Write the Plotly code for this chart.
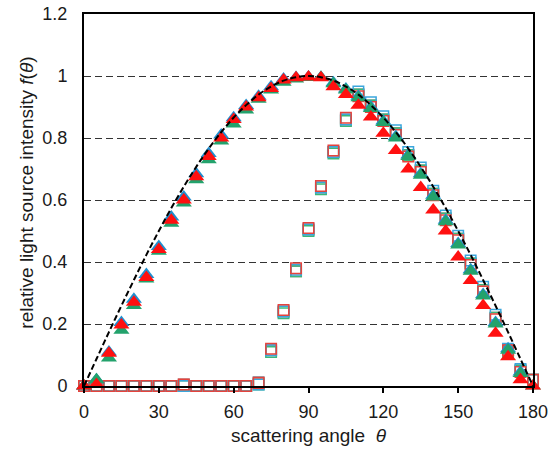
import plotly.graph_objects as go

# ---------------- data ----------------
angles = [0, 5, 10, 15, 20, 25, 30, 35, 40, 45, 50, 55, 60, 65, 70, 75, 80, 85, 90,
          95, 100, 105, 110, 115, 120, 125, 130, 135, 140, 145, 150, 155, 160, 165, 170, 175, 180]

tri_red = [0.0, 0.005, 0.106, 0.197, 0.27, 0.35, 0.44, 0.535, 0.60, 0.675, 0.74, 0.80, 0.86, 0.90, 0.93,
           0.96, 0.987, 0.994, 0.997, 0.994, 0.965, 0.94, 0.906, 0.868, 0.815, 0.76, 0.70, 0.64, 0.568,
           0.50, 0.416, 0.34, 0.26, 0.17, 0.094, 0.02, 0.0]
tri_green = [0.0, 0.02, 0.09, 0.18, 0.26, 0.345, 0.435, 0.525, 0.59, 0.665, 0.73, 0.79, 0.845, 0.89, 0.925,
             0.955, 0.98, 0.99, 0.995, 0.995, 0.975, 0.955, 0.93, 0.895, 0.85, 0.80, 0.74, 0.68, 0.61,
             0.53, 0.455, 0.37, 0.29, 0.20, 0.115, 0.04, 0.0]
tri_blue = [0.0, 0.02, 0.11, 0.205, 0.28, 0.36, 0.45, 0.545, 0.61, 0.685, 0.75, 0.81, 0.865, 0.905, 0.935,
            0.965, 0.99, 0.995, 0.997, 0.996, 0.978, 0.958, 0.935, 0.9, 0.855, 0.805, 0.745, 0.685, 0.615,
            0.535, 0.46, 0.375, 0.295, 0.205, 0.12, 0.045, -0.005]

sq_red = [0.0, 0.0, 0.0, 0.0, 0.0, 0.0, 0.0, 0.0, 0.005, 0.0, 0.0, 0.0, 0.0, 0.0, 0.01,
          0.12, 0.245, 0.38, 0.51, 0.645, 0.76, 0.865, 0.935, 0.90, 0.855, 0.81, 0.74, 0.69, 0.615,
          0.535, 0.47, 0.39, 0.305, 0.215, 0.115, 0.045, 0.02]
sq_blue = [0.0, 0.0, 0.0, 0.0, 0.0, 0.0, 0.0, 0.0, 0.0, 0.0, 0.0, 0.0, 0.0, 0.0, 0.005,
           0.115, 0.24, 0.375, 0.505, 0.64, 0.755, 0.86, 0.95, 0.915, 0.87, 0.825, 0.755, 0.705, 0.63,
           0.55, 0.485, 0.405, 0.32, 0.23, 0.12, 0.055, 0.02]
sq_green = [0.0, 0.0, 0.0, 0.0, 0.0, 0.0, 0.0, 0.0, 0.0, 0.0, 0.0, 0.0, 0.0, 0.0, 0.005,
            0.11, 0.235, 0.37, 0.50, 0.635, 0.75, 0.855, 0.94, 0.905, 0.86, 0.815, 0.745, 0.695, 0.62,
            0.54, 0.475, 0.395, 0.31, 0.22, 0.11, 0.05, 0.02]
sq_grey = [0.0, 0.0, 0.0, 0.0, 0.0, 0.0, 0.0, 0.0, 0.005, 0.0, 0.0, 0.0, 0.0, 0.0, 0.012,
           0.115, 0.24, 0.37, 0.505, 0.64, 0.755, 0.86, 0.94, 0.905, 0.86, 0.815, 0.745, 0.695, 0.62,
           0.54, 0.475, 0.395, 0.31, 0.22, 0.115, 0.05, 0.02]

curve_theta = angles
curve_f = [0.0, 0.087, 0.174, 0.259, 0.342, 0.423, 0.5, 0.574, 0.643, 0.707, 0.766, 0.819, 0.866, 0.906,
           0.940, 0.966, 0.985, 0.996, 1.0, 0.996, 0.985, 0.966, 0.940, 0.906, 0.866, 0.819, 0.766, 0.707,
           0.643, 0.574, 0.5, 0.423, 0.342, 0.259, 0.174, 0.087, 0.0]

x_ticks = [0, 30, 60, 90, 120, 150, 180]
y_ticks = [0, 0.2, 0.4, 0.6, 0.8, 1.0, 1.2]

# ---------------- figure ----------------
fig = go.Figure()

def squares(y, color):
    fig.add_trace(go.Scatter(x=angles, y=y, mode="markers", cliponaxis=False, showlegend=False,
                             marker=dict(symbol="square-open", size=10.5, color=color,
                                         line=dict(color=color, width=1.5))))

def triangles(y, color):
    fig.add_trace(go.Scatter(x=angles, y=y, mode="markers", cliponaxis=False, showlegend=False,
                             marker=dict(symbol="triangle-up", size=14, color=color,
                                         line=dict(width=0))))

squares(sq_grey, "#8a6e78")
squares(sq_green, "#3cb878")
squares(sq_blue, "#3aa6dd")
squares(sq_red, "#e5433d")
triangles(tri_blue, "#1f8fd0")
triangles(tri_green, "#23a26c")
triangles(tri_red, "#ff1010")

fig.add_trace(go.Scatter(x=curve_theta, y=curve_f, mode="lines", showlegend=False, cliponaxis=False,
                         line=dict(color="black", width=2, dash="6px,3px", shape="spline")))

font = "Liberation Sans, Arial, sans-serif"
fig.update_layout(
    width=553, height=450,
    margin=dict(l=84, r=20, t=14, b=64, autoexpand=False),
    paper_bgcolor="white", plot_bgcolor="white",
    font=dict(family=font, size=18, color="#1a1a1a"),
    xaxis=dict(range=[0, 180], tickvals=x_ticks, showgrid=False, zeroline=False, automargin=False,
               showline=True, mirror=True, linecolor="black", linewidth=2,
               ticks="outside", ticklen=5, tickcolor="black", tickwidth=1.5,
               tickfont=dict(size=18), ticklabelstandoff=3, ticklabeloverflow="allow",
               title=dict(text="scattering angle  <i>θ</i>", font=dict(size=19), standoff=8)),
    yaxis=dict(range=[0, 1.2], tickvals=y_ticks, showgrid=True, gridcolor="#333333", automargin=False,
               griddash="7px,4px", gridwidth=1, zeroline=False, ticklabeloverflow="allow",
               showline=True, mirror=True, linecolor="black", linewidth=2,
               ticks="", ticklabelstandoff=11, tickfont=dict(size=18)),
    annotations=[dict(text="relative light source intensity <i>f</i>(<i>θ</i>)", textangle=-90,
                      xref="paper", yref="paper", x=-0.129, y=0.52, xanchor="center", yanchor="middle",
                      showarrow=False, font=dict(size=19, family=font, color="#1a1a1a"))],
)

fig.write_html("out.html", config={"displayModeBar": False},
               post_script="document.body.style.margin='0';")
